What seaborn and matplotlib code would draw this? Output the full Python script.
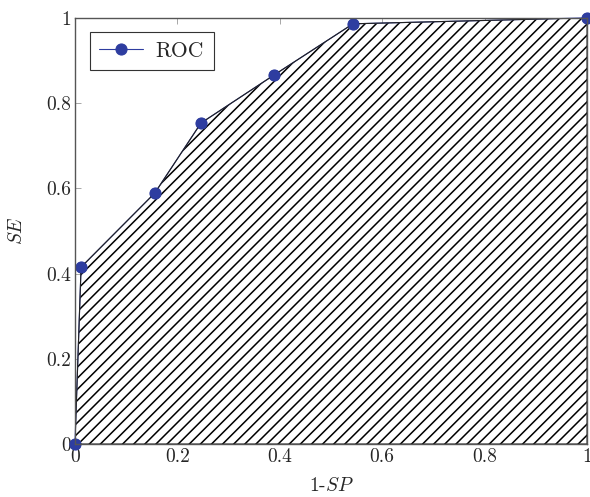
import matplotlib
matplotlib.use("Agg")
import matplotlib.pyplot as plt
import seaborn as sns
import pandas as pd

fpr = [0.0, 0.012, 0.156, 0.246, 0.389, 0.543, 1.0]
tpr = [0.0, 0.415, 0.589, 0.753, 0.866, 0.986, 1.0]
xticks = [0, 0.2, 0.4, 0.6, 0.8, 1]
yticks = [0, 0.2, 0.4, 0.6, 0.8, 1]
tick_labels = ["0", "0.2", "0.4", "0.6", "0.8", "1"]

sns.set_theme(style="white")
plt.rcParams["font.family"] = ["cmr10", "DejaVu Serif"]
plt.rcParams["mathtext.fontset"] = "cm"
plt.rcParams["axes.formatter.use_mathtext"] = True
plt.rcParams["hatch.linewidth"] = 1.1
plt.rcParams["hatch.color"] = "black"

df = pd.DataFrame({"fpr": fpr, "tpr": tpr})

fig = plt.figure(figsize=(5.9, 4.97), dpi=100)
ax = fig.add_axes([0.127, 0.1066, 0.868, 0.8575])

poly_x = fpr + [fpr[-1], fpr[0]]
poly_y = tpr + [0.0, 0.0]
ax.fill(poly_x, poly_y, facecolor="white", edgecolor="black", hatch="///",
        linewidth=0.0, zorder=1)

blue = "#2E3DA0"
sns.lineplot(data=df, x="fpr", y="tpr", ax=ax, color=blue, linewidth=0.8,
             marker="o", markersize=8, markeredgecolor=blue,
             markerfacecolor=blue, label="ROC", zorder=2, clip_on=False,
             sort=False)
# black outline of the area on top of the curve
ax.plot(poly_x + [poly_x[0]], poly_y + [poly_y[0]], color="#222222",
        linewidth=0.8, zorder=2.5)
# markers on top
sns.scatterplot(data=df, x="fpr", y="tpr", ax=ax, color=blue, s=64,
                edgecolor=blue, linewidth=0, zorder=3, clip_on=False,
                legend=False)

ax.set_xlim(0, 1)
ax.set_ylim(0, 1)
ax.set_xticks(xticks)
ax.set_yticks(yticks)
ax.set_xticklabels(tick_labels, fontsize=14)
ax.set_yticklabels(tick_labels, fontsize=14)
ax.tick_params(direction="in", length=4, width=0.6, color="#999999",
               top=True, right=True, bottom=True, left=True, pad=3)
for s in ax.spines.values():
    s.set_color("#555555")
    s.set_linewidth(1.0)
    s.set_zorder(4)

ax.set_xlabel("1-$SP$", fontsize=14, labelpad=8)
ax.set_ylabel("$SE$", fontsize=14, labelpad=14)

leg = ax.legend(loc="upper left", bbox_to_anchor=(0.008, 0.993), fontsize=15.5,
                frameon=True, fancybox=False, edgecolor="#333333",
                handlelength=2.0, borderpad=0.45, handletextpad=0.6)
leg.get_frame().set_linewidth(0.8)
leg.get_frame().set_alpha(1)

fig.savefig("out.png", dpi=100)
